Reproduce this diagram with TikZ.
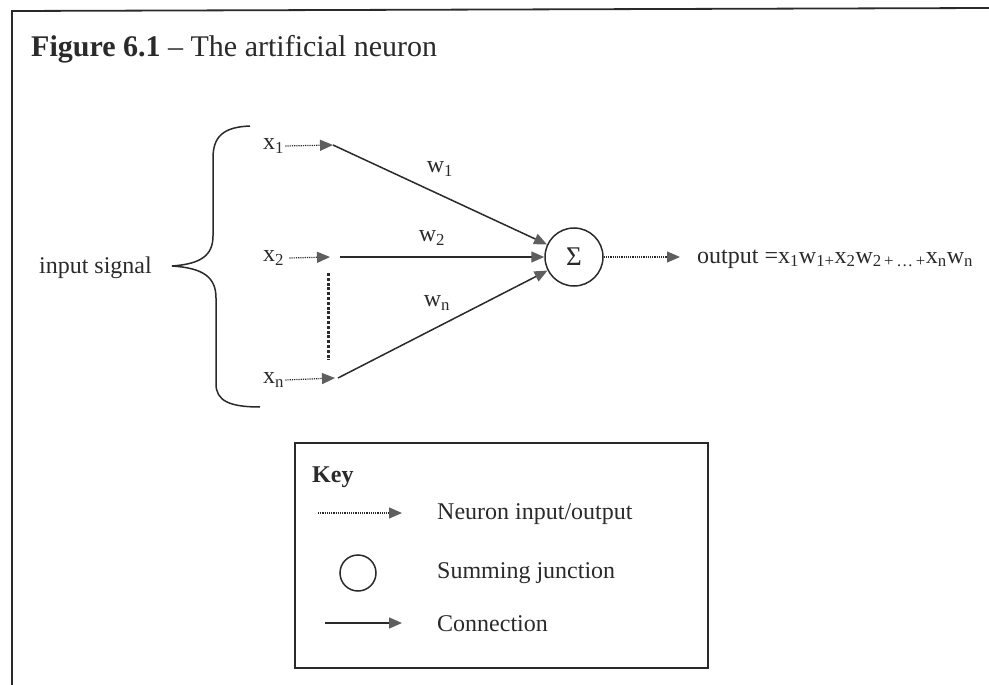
\documentclass[tikz,border=0pt]{standalone}
\usepackage{fontspec}
\setmainfont{Liberation Serif}
\usetikzlibrary{arrows.meta}
\definecolor{ink}{HTML}{2A2A2A}
\definecolor{tipgray}{HTML}{5E5E5E}
\begin{document}
\begin{tikzpicture}[x=1pt,y=-1pt,
  every node/.style={text=ink,font=\fontsize{24}{28}\selectfont},
  lbl/.style={inner sep=1pt},
  tip/.style={-{Triangle[length=13pt,width=11pt,fill=tipgray,color=tipgray]}},
  inarrow/.style={tip,draw=ink,line width=1.2pt,dash pattern=on 1.2pt off 1pt},
  conn/.style={tip,draw=ink,line width=1.5pt},
  sumnode/.style={circle,draw=ink,line width=1.5pt,minimum size=58pt,inner sep=0pt},
  keybox/.style={draw=ink,line width=1.6pt,inner sep=0pt}]
\useasboundingbox (0,0) rectangle (989,685);

% page frame (left and top edges)
\draw[ink,line width=1.8pt] (12,685) -- (12,11) -- (989,8);

% title
\node[anchor=base west,inner sep=0pt,font=\fontsize{30}{34}\selectfont] (title) at (31,57)
  {\textbf{Figure 6.1} -- The artificial neuron};

% brace grouping the inputs
\draw[ink,line width=1.5pt]
  (250,126) .. controls (224,127) and (213,136) .. (213,158) -- (213,236)
  .. controls (213,256) and (200,264) .. (172,266)
  .. controls (203,268) and (216,277) .. (216,298) -- (216,384)
  .. controls (216,401) and (230,407) .. (260,407);
\node[anchor=east,inner sep=0pt] (insig) at (152,268) {input signal};

% inputs
\node[lbl,anchor=west] (x1) at (262,146) {x\textsubscript{1}};
\node[lbl,anchor=west] (x2) at (262,258) {x\textsubscript{2}};
\node[lbl,anchor=west] (xn) at (262,380) {x\textsubscript{n}};
\coordinate (t1) at (333,145);
\coordinate (t2) at (330,257);
\coordinate (tn) at (335,378);
\draw[inarrow] (x1.east) -- (t1);
\draw[inarrow] ([xshift=4pt]x2.east) -- (t2);
\draw[inarrow] (xn.east) -- (tn);

% omitted inputs
\coordinate (va) at (328,273);
\coordinate (vb) at (328,360);
\draw[ink,line width=3pt,dash pattern=on 3pt off 1.8pt] (va) -- (vb);

% summing junction
\node[sumnode,font=\fontsize{27}{30}\selectfont] (sum) at (574,257) {Σ};

% weighted connections
\coordinate (s2) at (340,257);
\coordinate (sn) at (338,378);
\draw[conn] (t1) -- (sum);
\draw[conn] (s2) -- (sum);
\draw[conn] (sn) -- (sum);
\node[lbl] (w1) at (440,169) {w\textsubscript{1}};
\node[lbl] (w2) at (432,238) {w\textsubscript{2}};
\node[lbl] (wn) at (437,303) {w\textsubscript{n}};

% output
\coordinate (ot) at (680,257);
\draw[inarrow] (sum) -- (ot);
\node[anchor=west,inner sep=0pt] (out) at (697,259)
  {output =x\textsubscript{1}w\textsubscript{1+}x\textsubscript{2}w\textsubscript{2\,+\,\dots\,+}x\textsubscript{n}w\textsubscript{n}};

% key
\node[keybox,minimum width=413pt,minimum height=225pt] (key) at (501.5,555.5) {};
\node[anchor=base west,inner sep=0pt] (keyt) at (312,482) {\textbf{Key}};
\coordinate (ka) at (318,513);
\coordinate (kb) at (402,513);
\draw[inarrow] (ka) -- (kb);
\node[anchor=west,inner sep=0pt] (k1) at (437,514) {Neuron input/output};
\node[circle,draw=ink,line width=1.5pt,minimum size=36pt,inner sep=0pt] (kc) at (358,573) {};
\node[anchor=west,inner sep=0pt] (k2) at (437,573) {Summing junction};
\coordinate (kc1) at (325,623);
\coordinate (kc2) at (402,623);
\draw[conn] (kc1) -- (kc2);
\node[anchor=west,inner sep=0pt] (k3) at (437,624) {Connection};
\end{tikzpicture}
\end{document}
